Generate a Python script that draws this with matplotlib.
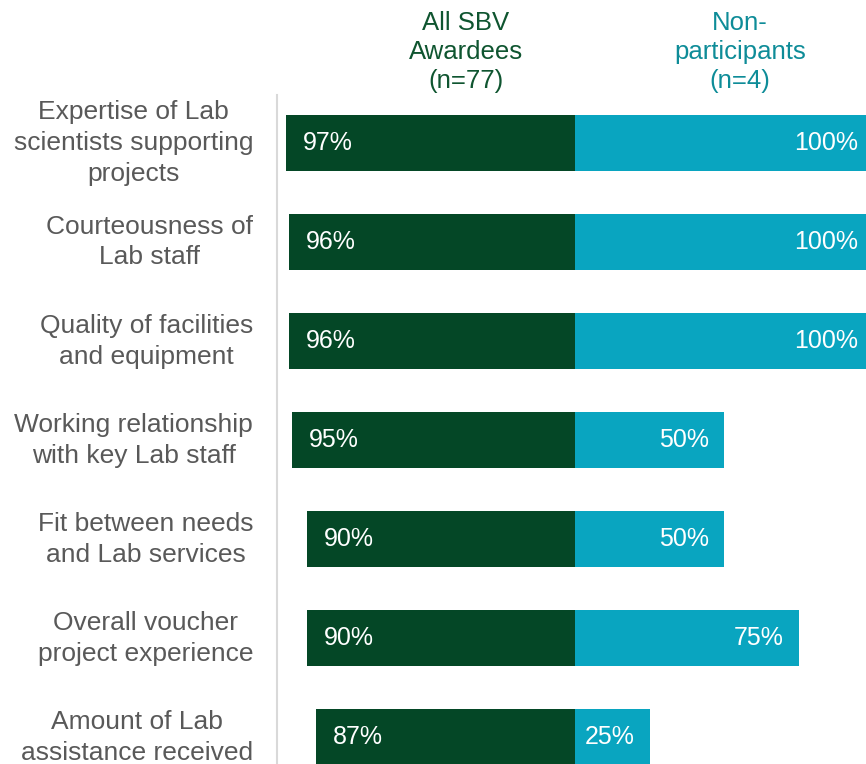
import matplotlib
matplotlib.use("Agg")
import matplotlib.pyplot as plt
import numpy as np

categories = ["Expertise of Lab\nscientists supporting\nprojects",
              "Courteousness of\nLab staff",
              "Quality of facilities\nand equipment",
              "Working relationship\nwith key Lab staff",
              "Fit between needs\nand Lab services",
              "Overall voucher\nproject experience",
              "Amount of Lab\nassistance received"]
awardees = [97, 96, 96, 95, 90, 90, 87]
nonpart = [100, 100, 100, 50, 50, 75, 25]
headers = ["All SBV\nAwardees\n(n=77)", "Non-\nparticipants\n(n=4)"]

green = "#044726"
teal = "#09a5c0"
gray = "#595959"

plt.rcParams['font.family'] = ['Liberation Sans', 'DejaVu Sans']

fig = plt.figure(figsize=(8.66, 7.64), dpi=100)
ax = fig.add_axes([277/866, 0, 1 - 277/866, 1 - 95/764])

y = np.arange(len(categories))
ax.barh(y, [-v for v in awardees], height=0.57, color=green)
ax.barh(y, nonpart, height=0.57, color=teal)

ax.set_xlim(-100, 97.6)
ax.set_ylim(6.27, -0.485)

for s in ['top', 'right', 'bottom']:
    ax.spines[s].set_visible(False)
ax.spines['left'].set_color('#d9d9d9')
ax.spines['left'].set_linewidth(1.5)
ax.set_xticks([])
ax.set_yticks([])

for i in range(len(categories)):
    ax.text(-108, y[i], categories[i], ha='right', va='center', multialignment='center',
            fontsize=19, color=gray, linespacing=1.36)
    ax.text(-awardees[i] + 5.7, y[i], f"{awardees[i]}%", ha='left', va='center',
            fontsize=18, color='white')
    ax.text(nonpart[i] - 5, y[i], f"{nonpart[i]}%", ha='right', va='center',
            fontsize=18, color='white')

fig.text(466/866, 1 - 52/764, headers[0], ha='center', va='center', fontsize=18.5,
         color='#0f5530', linespacing=1.27)
fig.text(740/866, 1 - 52/764, headers[1], ha='center', va='center', fontsize=18.5,
         color='#0e8c98', linespacing=1.27)

plt.savefig('out.png', dpi=100)
